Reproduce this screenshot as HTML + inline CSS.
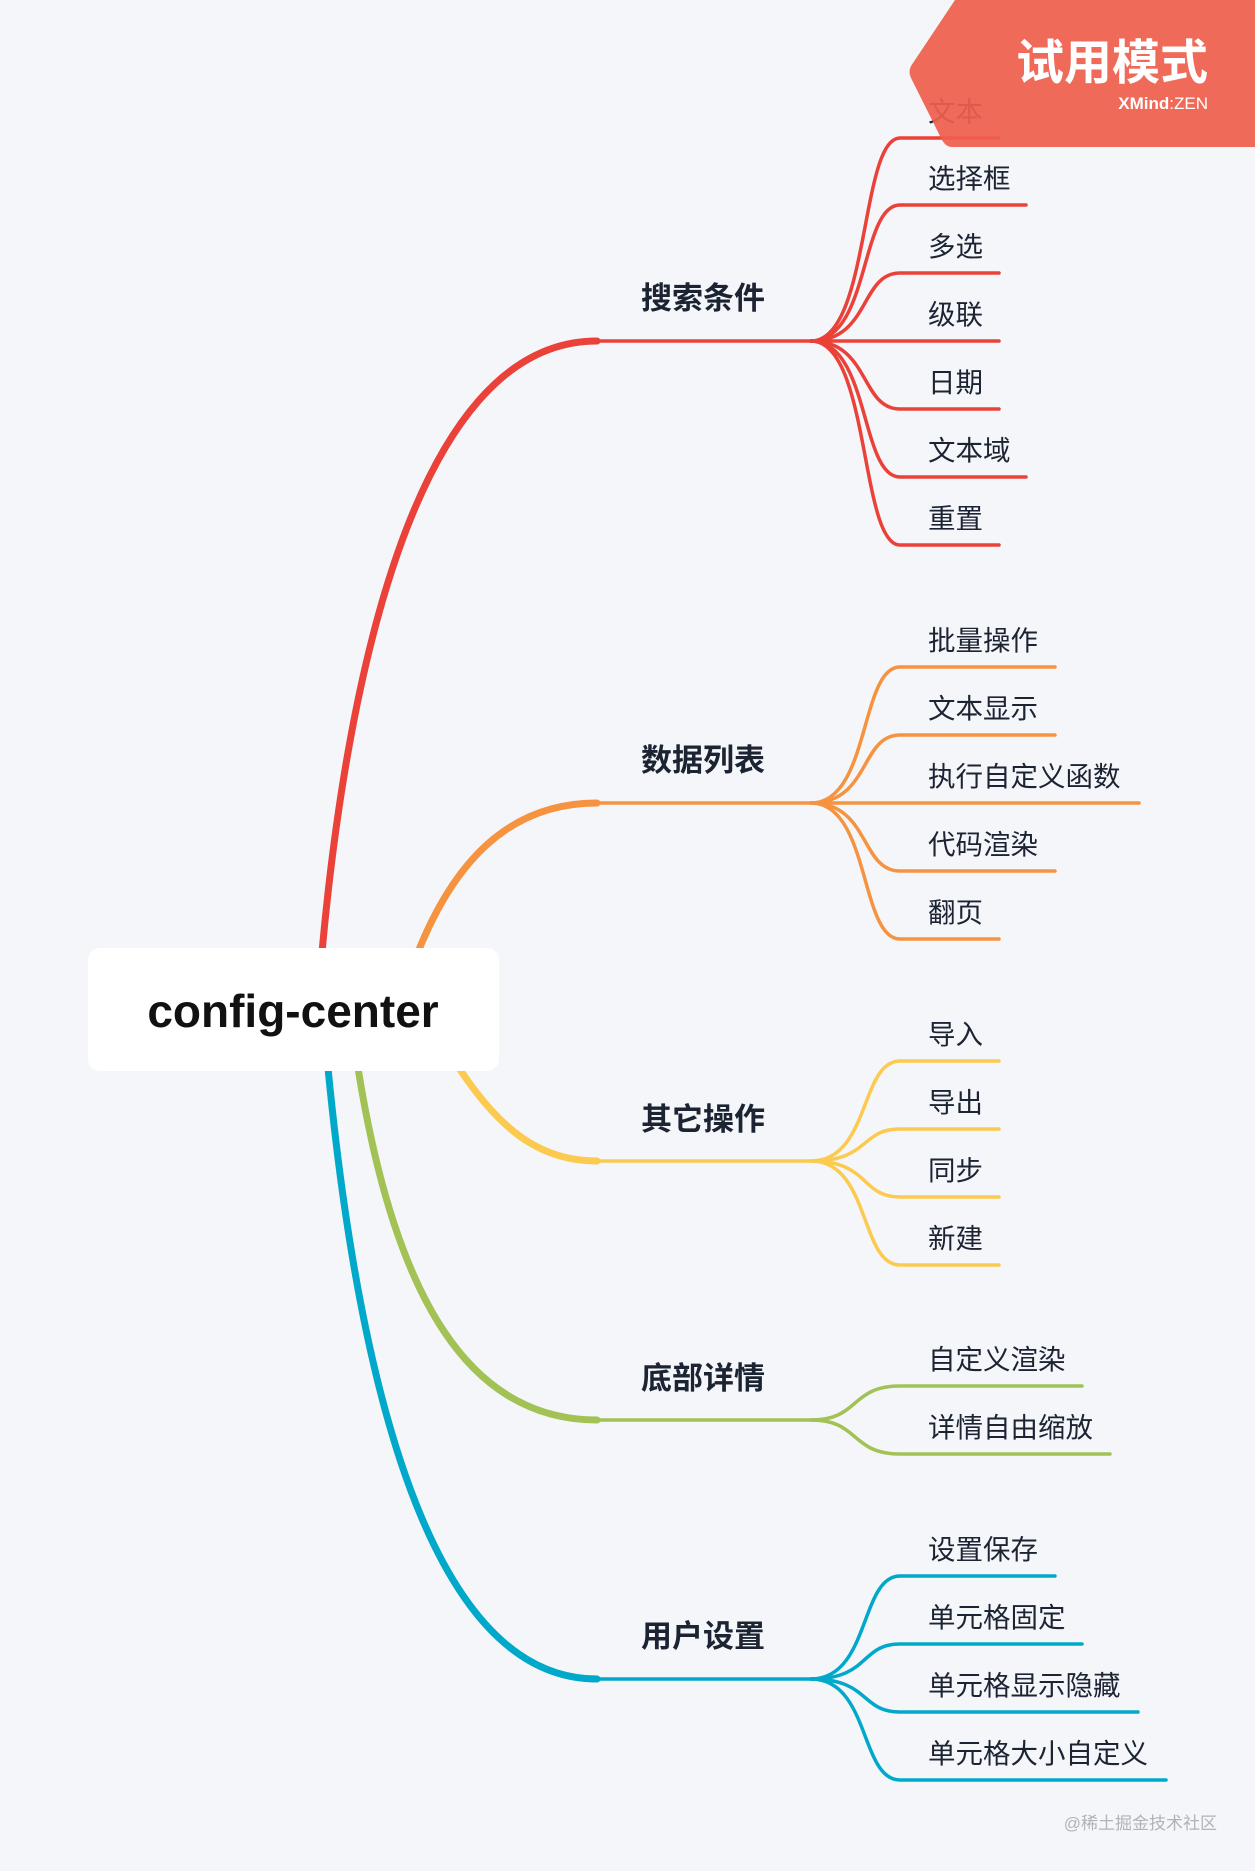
<!DOCTYPE html>
<html><head><meta charset="utf-8"><style>
html,body{margin:0;padding:0;background:#f5f6fa;}
svg{display:block;}
text{font-family:"Liberation Sans","Noto Sans CJK SC",sans-serif;}
</style></head><body>
<svg width="1255" height="1871" viewBox="0 0 1255 1871" xmlns="http://www.w3.org/2000/svg">
<rect width="1255" height="1871" fill="#f5f6fa"/>
<g fill="none" stroke-linecap="round">
<path d="M322,952 C345,700 410,341 597,341" stroke="#ea4139" stroke-width="7"/>
<path d="M597,341 L811,341" stroke="#ea4139" stroke-width="3.5"/>
<g stroke="#ea4139" stroke-width="3.5">
<path d="M811,341 C870,341 860,138 900,138 L999,138"/>
<path d="M811,341 C870,341 860,205 900,205 L1026,205"/>
<path d="M811,341 C870,341 860,273 900,273 L999,273"/>
<path d="M811,341 L999,341"/>
<path d="M811,341 C870,341 860,409 900,409 L999,409"/>
<path d="M811,341 C870,341 860,477 900,477 L1026,477"/>
<path d="M811,341 C870,341 860,545 900,545 L999,545"/>
</g>
<path d="M418,952 C455,860 510,803 597,803" stroke="#f59340" stroke-width="7"/>
<path d="M597,803 L811,803" stroke="#f59340" stroke-width="3.5"/>
<g stroke="#f59340" stroke-width="3.5">
<path d="M811,803 C870,803 860,667 900,667 L1055,667"/>
<path d="M811,803 C870,803 860,735 900,735 L1055,735"/>
<path d="M811,803 L1139,803"/>
<path d="M811,803 C870,803 860,871 900,871 L1055,871"/>
<path d="M811,803 C870,803 860,939 900,939 L999,939"/>
</g>
<path d="M459,1068 C500,1130 540,1161 597,1161" stroke="#fbca4e" stroke-width="7"/>
<path d="M597,1161 L811,1161" stroke="#fbca4e" stroke-width="3.5"/>
<g stroke="#fbca4e" stroke-width="3.5">
<path d="M811,1161 C870,1161 860,1061 900,1061 L999,1061"/>
<path d="M811,1161 C870,1161 860,1129 900,1129 L999,1129"/>
<path d="M811,1161 C870,1161 860,1197 900,1197 L999,1197"/>
<path d="M811,1161 C870,1161 860,1265 900,1265 L999,1265"/>
</g>
<path d="M358,1068 C395,1300 470,1420 597,1420" stroke="#a2c255" stroke-width="7"/>
<path d="M597,1420 L811,1420" stroke="#a2c255" stroke-width="3.5"/>
<g stroke="#a2c255" stroke-width="3.5">
<path d="M811,1420 C860,1420 850,1386 900,1386 L1082,1386"/>
<path d="M811,1420 C860,1420 850,1454 900,1454 L1110,1454"/>
</g>
<path d="M328,1068 C365,1450 450,1679 597,1679" stroke="#00a8c9" stroke-width="7"/>
<path d="M597,1679 L811,1679" stroke="#00a8c9" stroke-width="3.5"/>
<g stroke="#00a8c9" stroke-width="3.5">
<path d="M811,1679 C870,1679 860,1576 900,1576 L1055,1576"/>
<path d="M811,1679 C870,1679 860,1644 900,1644 L1082,1644"/>
<path d="M811,1679 C870,1679 860,1712 900,1712 L1138,1712"/>
<path d="M811,1679 C870,1679 860,1780 900,1780 L1166,1780"/>
</g>
</g>
<rect x="88" y="948" width="411" height="123" rx="12" fill="#ffffff"/>
<text x="293" y="1027" font-size="46" text-anchor="middle" fill="#111" font-weight="bold">config-center</text>
<g font-size="31" font-weight="bold" fill="#1c2433">
<text x="641" y="309">搜索条件</text>
<text x="641" y="771">数据列表</text>
<text x="641" y="1130">其它操作</text>
<text x="641" y="1389">底部详情</text>
<text x="641" y="1647">用户设置</text>
</g>
<g font-size="27.5" fill="#1c2433">
<text x="928" y="121">文本</text>
<text x="928" y="188">选择框</text>
<text x="928" y="256">多选</text>
<text x="928" y="324">级联</text>
<text x="928" y="392">日期</text>
<text x="928" y="460">文本域</text>
<text x="928" y="528">重置</text>
<text x="928" y="650">批量操作</text>
<text x="928" y="718">文本显示</text>
<text x="928" y="786">执行自定义函数</text>
<text x="928" y="854">代码渲染</text>
<text x="928" y="922">翻页</text>
<text x="928" y="1044">导入</text>
<text x="928" y="1112">导出</text>
<text x="928" y="1180">同步</text>
<text x="928" y="1248">新建</text>
<text x="928" y="1369">自定义渲染</text>
<text x="928" y="1437">详情自由缩放</text>
<text x="928" y="1559">设置保存</text>
<text x="928" y="1627">单元格固定</text>
<text x="928" y="1695">单元格显示隐藏</text>
<text x="928" y="1763">单元格大小自定义</text>
</g>
<path d="M955,0 L1255,0 L1255,147 L952,147 Q946,147 942,140 L911,78 Q908,72 911,66 Z" fill="#ef5f4d" opacity="0.93"/>
<text x="1208" y="79" font-size="48" font-weight="bold" fill="#fff" text-anchor="end">试用模式</text>
<text x="1208" y="109" font-size="17" fill="#fff" text-anchor="end"><tspan font-weight="bold">XMind</tspan>:ZEN</text>
<text x="1217" y="1829" font-size="17" fill="#b0b3ba" text-anchor="end">@稀土掘金技术社区</text>
</svg>
</body></html>
